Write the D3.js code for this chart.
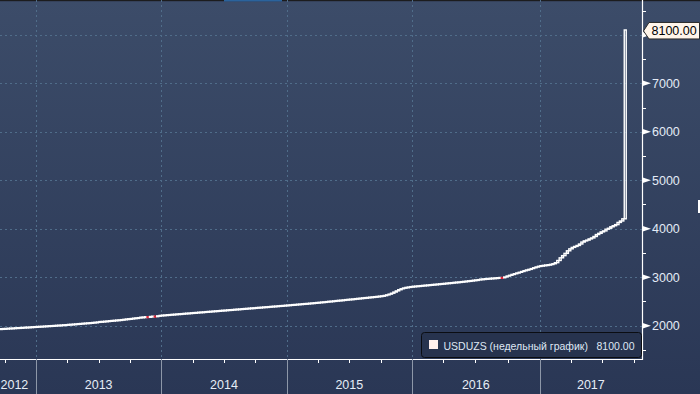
<!DOCTYPE html>
<html><head><meta charset="utf-8">
<script src="https://cdn.jsdelivr.net/npm/d3@7"></script>
<style>html,body{margin:0;padding:0;background:#2c3956;overflow:hidden}svg{display:block}</style>
</head><body>
<svg id="chart" width="700" height="394"></svg>
<script>
// ---- data ----
const seriesName = "USDUZS (недельный график)";
const lastLabel = "8100.00";
const firstWeek = [2012, 8, 21];   // Friday of first weekly bar
const axisEndWeek = [2017, 10, 4]; // axis runs through early Nov 2017
// weekly closes, Sep 21 2012 .. Sep 8 2017
const closes = [
  1938,1941,1943,1947,1950,1952,1956,1959,1961,1964,1968,1970,1973,1977,1980,
  1983,1986,1988,1992,1995,1999,2001,2004,2008,2011,2014,2018,2021,2026,2029,
  2033,2037,2042,2045,2050,2054,2058,2061,2066,2071,2076,2085,2088,2092,2097,
  2102,2107,2111,2116,2120,2125,2131,2138,2143,2148,2155,2161,2166,2175,2179,
  2184,2180,2190,2196,2193,2203,2212,2218,
  2221,2226,2229,2234,2237,2242,2246,2249,2254,2258,2261,2266,2270,2273,2278,
  2282,2285,2290,2294,2297,2302,2306,2309,2314,2318,2321,2326,2330,2333,2338,
  2342,2345,2350,2354,2357,2362,2366,2369,2374,2378,2381,2386,2390,2393,2398,
  2402,2405,2410,2414,2417,2422,
  2426,2430,2435,2438,2443,2447,2452,2456,2459,2464,2469,2473,2478,2482,2488,
  2492,2497,2503,2507,2512,2518,2523,2527,2532,2538,2543,2548,2552,2558,2563,
  2568,2574,2579,2583,2589,2594,2599,2604,2610,2616,2624,2636,2651,2670,2694,
  2718,2742,2762,2778,2790,2798,2806,
  2812,2817,2822,2826,2831,2836,2840,2845,2850,2854,2859,2864,2869,2873,2879,
  2884,2888,2894,2899,2903,2909,2914,2920,2926,2931,2938,2944,2950,
  2960,2965,2970,2974,2978,2982,2986,2990,2994,2990,3005,3025,3040,3058,3072,
  3088,3102,3118,3135,3150,3162,3178,3195,3212,3226,3238,3245,3252,3258,3266,
  3278,3300,3345,3400,3445,3492,3545,3585,3615,3635,3655,3685,3725,3750,3765,
  3790,3810,3840,3880,3905,3935,3955,3990,4010,4040,4062,4085,4130,4160,4205,
  8100
];
const yTickValues = [2000,3000,4000,5000,6000,7000,8000];
const yMinorValues = [1500,2500,3500,4500,5500,6500,7500,8500];
const yDomain = [1313, 8718];

// ---- layout ----
const W = 700, H = 394;
const plotRight = 642, plotBottom = 359;
const svg = d3.select("#chart");
const defs = svg.append("defs");
const grad = defs.append("linearGradient").attr("id","bg").attr("x1",0).attr("y1",0).attr("x2",0).attr("y2",1);
grad.append("stop").attr("offset","0%").attr("stop-color","#3c4c69");
grad.append("stop").attr("offset","100%").attr("stop-color","#2a3755");
defs.append("clipPath").attr("id","plotclip").append("rect").attr("x",0).attr("y",0).attr("width",plotRight).attr("height",plotBottom);

svg.append("rect").attr("width",W).attr("height",H).attr("fill","url(#bg)");
// top tab strip
svg.append("rect").attr("x",0).attr("y",0).attr("width",W).attr("height",1.2).attr("fill","#1c1c1e");
svg.append("rect").attr("x",224).attr("y",0).attr("width",58).attr("height",1.5).attr("fill","#2b639c");

const weeks = d3.timeFriday.range(new Date(...firstWeek), new Date(...axisEndWeek));
const x = d3.scaleLinear().domain([0, weeks.length-1]).range([1.055, 1.055 + 2.41*(weeks.length-1)]);
const y = d3.scaleLinear().domain(yDomain).range([plotBottom, 0]);

const gridColor = "#506d8a";
// horizontal grid
svg.append("g").selectAll("line").data(yTickValues).join("line")
  .attr("x1",0).attr("x2",plotRight).attr("y1",d=>Math.round(y(d))+0.5).attr("y2",d=>Math.round(y(d))+0.5)
  .attr("stroke",gridColor).attr("stroke-width",1).attr("stroke-dasharray","2,3");

// year separators / quarter ticks
const yearStarts = [], quarterStarts = [];
weeks.forEach((d,i)=>{
  if(i===0) return;
  const p = weeks[i-1];
  if(d.getMonth()!==p.getMonth() && d.getMonth()%3===0){
    if(d.getFullYear()!==p.getFullYear()) yearStarts.push(i); else quarterStarts.push(i);
  }
});
const sepX = i => Math.round(x(i-0.5))+0.5;
svg.append("g").selectAll("line").data(yearStarts).join("line")
  .attr("x1",sepX).attr("x2",sepX).attr("y1",0).attr("y2",plotBottom)
  .attr("stroke",gridColor).attr("stroke-dasharray","2,3");

// candles
const g = svg.append("g").attr("clip-path","url(#plotclip)");
const candles = closes.map((c,i)=>({i, o: i===0 ? c : closes[i-1], c}));
g.selectAll("rect").data(candles).join("rect")
  .attr("x", d=>x(d.i)-1)
  .attr("width", 2)
  .attr("y", d=>y(Math.max(d.o,d.c)))
  .attr("height", d=>Math.max(0.8, Math.abs(y(d.o)-y(d.c))))
  .attr("fill", d=>d.c<d.o ? "#e0283c" : "none")
  .attr("stroke", d=>d.c<d.o ? "#e0283c" : "#ffffff")
  .attr("stroke-width", 1.4);

// x axis
svg.append("line").attr("x1",0).attr("x2",plotRight).attr("y1",plotBottom+0.5).attr("y2",plotBottom+0.5)
  .attr("stroke","#ffffff").attr("stroke-width",1.2);
svg.append("g").selectAll("line").data(quarterStarts).join("line")
  .attr("x1",sepX).attr("x2",sepX).attr("y1",plotBottom).attr("y2",plotBottom+4)
  .attr("stroke","#ffffff");
svg.append("g").selectAll("line").data(yearStarts).join("line")
  .attr("x1",sepX).attr("x2",sepX).attr("y1",plotBottom).attr("y2",H)
  .attr("stroke","#8d97a8");
// year labels
const bounds = [0, ...yearStarts.map(i=>x(i-0.5)), plotRight];
const yearLabels = [weeks[0].getFullYear(), ...yearStarts.map(i=>weeks[i].getFullYear())];
svg.append("g").selectAll("text").data(yearLabels).join("text")
  .attr("x",(d,k)=> k===0 ? 0.5 : (bounds[k]+bounds[k+1])/2)
  .attr("y",385)
  .attr("text-anchor",(d,k)=> k===0 ? "start" : "middle")
  .attr("dominant-baseline","central")
  .attr("font-family","Liberation Sans, Arial, sans-serif").attr("font-size","12.5px")
  .attr("fill","#e6edf6").text(d=>d);

// y axis
svg.append("line").attr("x1",plotRight+0.5).attr("x2",plotRight+0.5).attr("y1",0).attr("y2",plotBottom+1)
  .attr("stroke","#ffffff").attr("stroke-width",1.2);
svg.append("g").selectAll("line").data(yMinorValues).join("line")
  .attr("x1",plotRight).attr("x2",plotRight+4).attr("y1",d=>Math.round(y(d))+0.5).attr("y2",d=>Math.round(y(d))+0.5)
  .attr("stroke","#ffffff");
svg.append("g").selectAll("path").data(yTickValues).join("path")
  .attr("d",d=>{const yy=y(d);return `M${plotRight},${yy-3}L${plotRight+9},${yy}L${plotRight},${yy+3}Z`;})
  .attr("fill","#ffffff");
// the 8000 label sits under the last-value flag, as in the original
svg.append("g").selectAll("text").data(yTickValues).join("text")
  .attr("x",652).attr("y",d=>y(d)+0.5)
  .attr("dominant-baseline","central")
  .attr("font-family","Liberation Sans, Arial, sans-serif").attr("font-size","12.5px")
  .attr("fill","#e3ebf6").text(d=>d);

// last value flag
const lastY = y(closes[closes.length-1]);
svg.append("path")
  .attr("d",`M${plotRight+1.5},${lastY+1}L649,${lastY-7.5}L699.5,${lastY-7.5}L699.5,${lastY+9}L649,${lastY+9}Z`)
  .attr("fill","#fff5ea").attr("stroke","#2a2a2a").attr("stroke-width",1);
svg.append("text").attr("x",651.5).attr("y",lastY+1)
  .attr("dominant-baseline","central")
  .attr("font-family","Liberation Sans, Arial, sans-serif").attr("font-size","12.5px")
  .attr("fill","#000").text(lastLabel);

// right edge marker
svg.append("rect").attr("x",698).attr("y",200).attr("width",2).attr("height",13).attr("fill","#ffffff");

// legend
const lg = svg.append("g");
lg.append("rect").attr("x",421.5).attr("y",332.5).attr("width",220).attr("height",25).attr("rx",3)
  .attr("fill","#27334e").attr("stroke","#0b0d12").attr("stroke-width",1);
lg.append("rect").attr("x",429).attr("y",340).attr("width",9).attr("height",9).attr("fill","#fff0ec");
lg.append("text").attr("x",443.5).attr("y",345.5).attr("dominant-baseline","central")
  .attr("font-family","Liberation Sans, Arial, sans-serif").attr("font-size","10.5px")
  .attr("fill","#dfe7f3").text(seriesName);
lg.append("text").attr("x",634.5).attr("y",345.5).attr("dominant-baseline","central").attr("text-anchor","end")
  .attr("font-family","Liberation Sans, Arial, sans-serif").attr("font-size","10.5px")
  .attr("fill","#dfe7f3").text(lastLabel);
</script>
</body></html>
